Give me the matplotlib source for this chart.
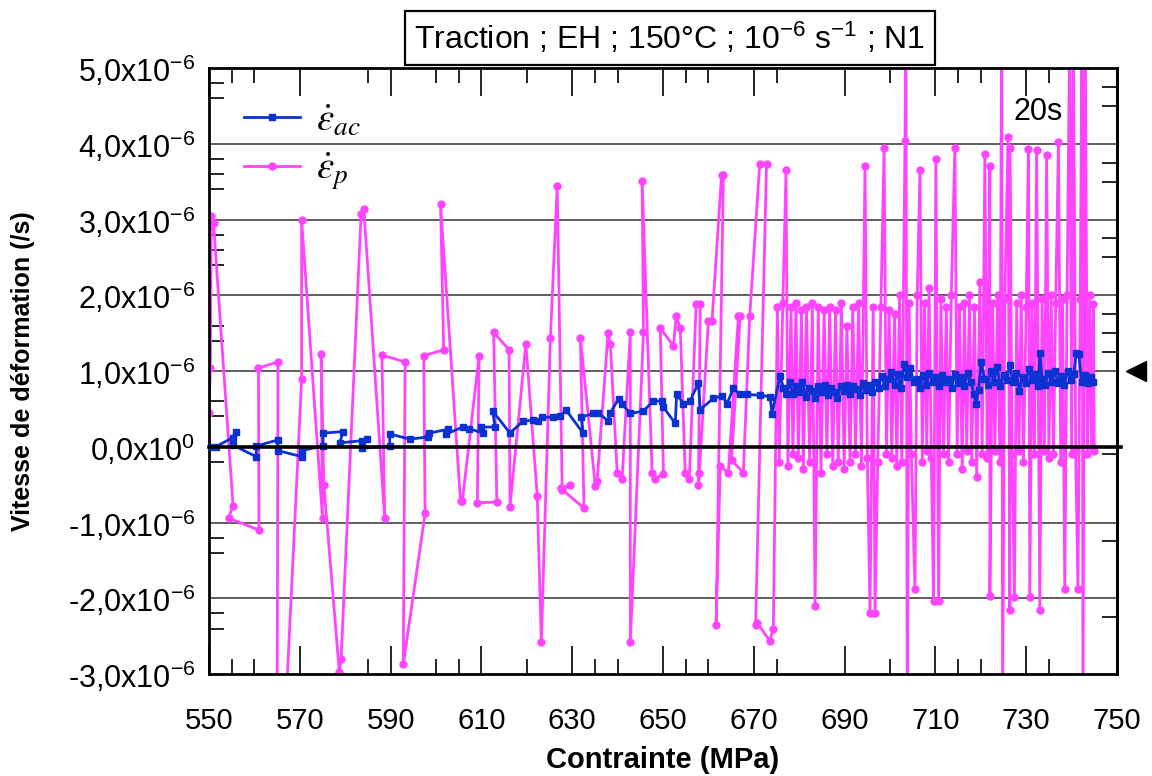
import numpy as np
import matplotlib
matplotlib.use("Agg")
import matplotlib.pyplot as plt
from matplotlib.ticker import FixedLocator
import matplotlib.transforms as mtransforms

plt.rcParams['font.family'] = ['Liberation Sans', 'DejaVu Sans']
plt.rcParams['mathtext.fontset'] = 'custom'
plt.rcParams['mathtext.rm'] = 'Liberation Sans'
plt.rcParams['mathtext.it'] = 'Liberation Sans:italic'

# --- donnees (contrainte en MPa, vitesse en 1e-6 /s) ---
x_p = [550.0, 550.3, 550.5, 551.0, 555.3, 554.3, 561.0, 560.9, 565.2, 565.0, 566.8,
       570.4, 570.4, 575.0, 574.7, 575.3, 578.7, 579.1, 583.5, 584.1, 588.7, 588.1,
       593.2, 592.8, 597.6, 597.3, 601.7, 601.0, 605.4, 605.8, 609.5, 609.1, 613.4,
       612.7, 616.1, 616.3, 619.8, 622.3, 623.2, 625.2, 626.7, 627.8, 629.6, 627.5,
       632.6, 631.8, 635.1, 635.5, 637.9, 638.4, 639.9, 641.0, 642.8, 642.8, 645.7,
       645.4, 647.6, 648.3, 650.1, 649.4, 652.3, 652.9, 653.8, 654.9, 655.8, 657.3,
       658.2, 657.8, 658.0, 660.0, 660.8, 662.9, 663.3, 661.7, 662.6, 664.4, 666.6,
       667.0, 665.1, 667.7, 669.1, 671.3, 672.8, 670.4, 670.8, 673.5, 674.3,
       675.2, 675.6, 676.4, 677.1, 677.5, 678.2, 678.6, 679.3, 679.8, 680.5, 680.9,
       681.6, 682.3, 682.9, 683.5, 684.2, 684.8, 685.5, 686.1, 686.7, 687.4, 688.0,
       688.6, 689.3, 689.9, 690.5, 691.2, 691.8, 692.4, 693.1, 693.7, 694.5, 695.0,
       695.6, 696.3, 696.7, 697.3, 698.0, 698.7, 699.2, 699.8, 700.4, 701.0, 701.5,
       702.1, 702.6, 703.3, 703.5, 703.8, 704.2, 704.7, 705.5, 706.0, 706.6, 707.1,
       707.6, 708.1, 708.6, 709.1, 709.6, 710.1, 710.7, 711.2, 711.8, 712.4, 712.9,
       713.5, 714.3, 714.8, 715.3, 715.9, 716.4, 716.9, 717.5, 718.0, 718.6, 719.1,
       719.8, 720.3, 720.9, 721.4, 722.0, 722.0, 722.6, 723.1, 723.7, 724.2, 724.6,
       724.8, 725.3, 726.0, 726.4, 726.4, 726.9, 727.4, 727.9, 728.4, 728.9, 729.4,
       730.0, 730.5, 730.8, 731.3, 731.8, 732.3, 733.0, 733.5, 734.0, 734.5, 735.0,
       735.5, 736.0, 736.5, 737.1, 737.6, 738.0, 738.5, 739.0, 739.6, 740.0, 740.4,
       740.9, 741.4, 741.9, 742.3, 742.5, 743.0, 743.5, 744.0, 744.4, 744.8, 745.0]
y_p = [0.45, 1.04, 3.05, 2.95, -0.78, -0.94, -1.10, 1.04, 1.12, -3.6, -3.6,
       0.89, 2.99, -0.94, 1.23, -0.5, -2.97, -2.80, 3.07, 3.14, -0.94, 1.21,
       1.12, -2.87, -0.88, 1.20, 1.28, 3.21, -0.72, -0.72, 1.20, -0.74, -0.73,
       1.51, 1.28, -0.79, 1.36, -0.65, -2.58, 1.44, 3.44, -0.57, -0.50, -0.55,
       -0.81, 1.44, -0.52, -0.45, 1.50, 1.36, -0.34, -0.42, 1.51, -2.58, 1.51,
       3.51, -0.34, -0.42, -0.36, 1.57, 1.33, 1.72, 1.57, -0.34, -0.42, 1.88,
       1.88, -0.50, -0.34, 1.66, 1.66, 3.59, 3.59, -2.35, -0.26, -0.34, 1.72,
       1.72, -0.18, -0.34, 1.72, 3.73, 3.73, -2.35, -2.33, -2.56, -2.40,
       1.85, -0.20, 1.90, 3.65, -0.25, 1.85, -0.10, 1.90, -0.15, 1.80, -0.30,
       1.85, -0.20, 1.90, -2.10, 1.85, -0.35, 1.80, -0.10, 1.85, -0.25, 1.80,
       -0.20, 1.90, -0.30, 1.60, -0.20, 1.85, -0.10, 1.90, -0.25, 3.71, -0.15,
       -2.19, 1.85, -2.19, -0.20, 1.85, 3.95, -0.10, 1.80, -0.15, 1.75, -0.25,
       2.00, -0.20, 4.04, 5.60, -3.40, 1.90, -0.10, -1.88, 2.00, 3.65, -0.20,
       1.90, -0.05, 2.10, -0.15, -2.03, 3.80, -2.03, 1.95, -0.10, 1.85, -0.20,
       2.00, 3.95, -0.10, 1.85, -0.30, 1.90, -0.05, 2.00, -0.20, 1.85, -0.40,
       2.18, -0.10, 3.86, -0.15, 3.70, -1.97, 1.90, -0.05, 2.00, -0.20, 5.60,
       -3.40, 1.95, 4.09, -2.16, 3.95, -0.10, -1.98, 1.90, -0.05, 2.00, -0.20,
       1.85, 3.93, -1.98, 1.90, -0.10, 3.92, -2.16, 1.95, -0.05, 3.85, -0.15,
       2.00, -0.10, 1.90, 4.02, -0.20, 1.95, -1.88, 2.00, 5.60, -0.10, 5.60,
       -0.05, -1.88, 1.95, 5.60, -3.40, 5.60, -0.10, 2.00, 0.00, 1.88, -0.05]

x_ac = [550.0, 551.5, 555.2, 555.9, 555.3, 560.4, 560.4, 565.2, 565.1, 570.4, 570.5,
        575.1, 575.1, 579.5, 578.8, 583.6, 584.7, 583.8, 589.8, 589.8, 594.2, 598.2,
        598.5, 602.6, 602.3, 605.9, 607.3, 610.3, 609.9, 613.0, 612.5, 616.3, 619.2,
        621.4, 622.5, 623.3, 625.8, 627.3, 628.7, 632.4, 632.0, 634.6, 635.7, 637.9,
        638.3, 640.2, 640.9, 642.8, 645.7, 647.9, 649.7, 650.1, 652.7, 653.0, 654.5,
        655.9, 657.8, 658.2, 661.1, 663.0, 664.1, 665.5, 667.0, 668.5, 671.4, 673.6,
        674.0, 675.8, 676.5, 677.2, 677.9, 678.6, 679.3, 680.0, 680.7, 681.4, 682.1,
        682.8, 683.5, 684.2, 684.9, 685.6, 686.3, 687.0, 687.7, 688.4, 689.1, 689.8,
        690.5, 691.2, 691.9, 692.6, 693.3, 694.0, 694.7, 695.4, 696.1, 696.8, 697.5,
        698.2, 698.9, 699.6, 700.3, 701.0, 701.7, 702.4, 703.1, 703.8, 704.5, 705.2,
        705.9, 706.6, 707.3, 708.0, 708.7, 709.4, 710.1, 710.8, 711.5, 712.2, 712.9,
        713.6, 714.3, 715.0, 715.7, 716.4, 717.1, 717.8, 718.5, 719.0, 719.5, 720.1,
        720.8, 721.5, 722.2, 722.9, 723.6, 724.3, 725.0, 725.7, 726.4, 727.1, 727.8,
        728.5, 729.2, 729.9, 730.6, 731.3, 732.0, 732.7, 733.0, 733.5, 734.2, 734.9,
        735.6, 736.3, 737.0, 737.7, 738.4, 739.1, 739.8, 740.5, 741.0, 741.6, 742.2,
        742.9, 743.6, 744.3, 744.8]
y_ac = [0.00, 0.00, 0.12, 0.20, 0.02, -0.13, 0.01, 0.09, -0.05, -0.13, -0.05,
        0.01, 0.18, 0.20, 0.05, 0.08, 0.10, -0.02, 0.01, 0.17, 0.10, 0.13,
        0.18, 0.23, 0.17, 0.26, 0.24, 0.18, 0.26, 0.26, 0.47, 0.18, 0.34,
        0.35, 0.34, 0.39, 0.39, 0.40, 0.48, 0.18, 0.39, 0.44, 0.45, 0.34,
        0.44, 0.63, 0.57, 0.44, 0.47, 0.61, 0.60, 0.52, 0.31, 0.69, 0.57,
        0.60, 0.84, 0.49, 0.64, 0.67, 0.57, 0.77, 0.69, 0.69, 0.68, 0.66,
        0.43, 0.94, 0.78, 0.69, 0.85, 0.70, 0.80, 0.72, 0.85, 0.66, 0.78,
        0.74, 0.65, 0.80, 0.72, 0.82, 0.68, 0.78, 0.72, 0.65, 0.80, 0.74,
        0.82, 0.70, 0.80, 0.76, 0.68, 0.84, 0.75, 0.82, 0.72, 0.86, 0.78,
        0.94, 0.80, 0.90, 0.99, 0.82, 0.96, 0.78, 1.09, 0.92, 1.04, 0.85,
        0.90, 0.78, 0.95, 0.82, 0.98, 0.86, 0.92, 0.80, 0.95, 0.85, 0.90,
        0.78, 0.96, 0.84, 0.92, 0.80, 0.98, 0.86, 0.70, 0.56, 0.75, 1.12,
        0.90, 0.82, 1.00, 0.86, 1.05, 0.80, 0.95, 0.88, 1.08, 0.85, 0.98,
        0.74, 0.92, 0.84, 1.02, 0.88, 0.96, 0.80, 1.24, 0.90, 0.82, 0.98,
        0.86, 1.00, 0.84, 0.94, 0.82, 1.00, 0.88, 0.96, 1.24, 1.22, 0.86,
        0.95, 0.84, 0.92, 0.86]

x_major = [550, 570, 590, 610, 630, 650, 670, 690, 710, 730, 750]
x_minor = [555, 560, 585, 600, 605, 620, 635, 640, 655, 660, 675, 700, 715, 720, 735]
y_major = [-3, -2, -1, 0, 1, 2, 3, 4, 5]
y_labels = ['-3,0x10$^{-6}$', '-2,0x10$^{-6}$', '-1,0x10$^{-6}$', '0,0x10$^{0}$',
            '1,0x10$^{-6}$', '2,0x10$^{-6}$', '3,0x10$^{-6}$', '4,0x10$^{-6}$',
            '5,0x10$^{-6}$']
y_minor_left = [4.8, 4.6, 3.8, 3.6, 3.4, 2.8, 2.6, 2.4, 1.6, 1.4, 0.6, 0.4,
                -0.2, -1.2, -1.4, -2.2, -2.4]
y_minor_right = [4.75, 4.5, 3.75, 3.5, 2.75, 2.5, 1.75, 1.5, 1.25, -0.1, -1.25, -2.25]
marker_y = 1.0

SC = 1e-6
x_p = np.array(x_p); y_p = np.array(y_p) * SC
x_ac = np.array(x_ac); y_ac = np.array(y_ac) * SC

fig = plt.figure(figsize=(11.52, 7.76), dpi=100)
ax = fig.add_axes([209/1152, 102/776, 908/1152, 606/776])

pink = '#ff44ff'
blue = '#0a32d2'

for v in y_major[1:-1]:
    if v != 0:
        ax.axhline(v * SC, color='#333333', lw=1.1, zorder=1)

ax.plot(x_p, y_p, color=pink, lw=2.0, marker='o', ms=5, zorder=2,
        label=r'$\dot{\varepsilon}_{p}$')
ax.plot(x_ac, y_ac, color=blue, lw=2.0, marker='s', ms=4.2, zorder=3,
        label=r'$\dot{\varepsilon}_{ac}$')
ax.axhline(0, color='black', lw=2.6, zorder=4, xmin=0, xmax=1.004, clip_on=False)

ax.set_xlim(550, 750)
ax.set_ylim(-3 * SC, 5 * SC)

ax.xaxis.set_major_locator(FixedLocator(x_major))
ax.xaxis.set_minor_locator(FixedLocator(x_minor))
ax.yaxis.set_major_locator(FixedLocator([v * SC for v in y_major]))
ax.set_yticklabels(y_labels)
ax.yaxis.set_minor_locator(FixedLocator([v * SC for v in y_minor_left]))

ax.tick_params(axis='x', which='both', direction='in', top=True, labelsize=21, pad=24,
               width=1.2)
ax.tick_params(axis='x', which='major', length=20)
ax.tick_params(axis='x', which='minor', length=11)
ax.tick_params(axis='y', which='both', direction='in', right=False, labelsize=22,
               pad=10, width=1.2)
ax.tick_params(axis='y', which='major', length=0)
ax.tick_params(axis='y', which='minor', length=11)

sec = ax.secondary_yaxis('right')
sec.yaxis.set_major_locator(FixedLocator([]))
sec.yaxis.set_minor_locator(FixedLocator([v * SC for v in y_minor_right]))
sec.tick_params(which='minor', direction='in', length=11, width=1.2, labelright=False)
sec.spines['right'].set_linewidth(2)

for s in ax.spines.values():
    s.set_linewidth(2)

ax.set_xlabel('Contrainte (MPa)', fontsize=21, fontweight='bold', labelpad=8)
ax.set_ylabel('Vitesse de déformation (/s)', fontsize=18, fontweight='bold')
ax.yaxis.set_label_coords(-0.192, 0.5)

h, l = ax.get_legend_handles_labels()
leg = ax.legend(h[::-1], l[::-1], loc='upper left', bbox_to_anchor=(0.0, 1.0),
                frameon=False, fontsize=28, handlelength=1.45, handletextpad=0.4,
                labelspacing=0.3, borderaxespad=0.5)
for t in leg.get_texts():
    t.set_math_fontfamily('stix')

ax.text(732.6, 4.42 * SC, '20s', ha='center', va='center', fontsize=22)

trans = mtransforms.blended_transform_factory(ax.transAxes, ax.transData)
ax.plot([1.021], [marker_y * SC], marker='<', ms=15, color='black',
        transform=trans, clip_on=False)

fig.text(670/1152, 1 - 38/776, 'Traction ; EH ; 150°C ; 10$^{-6}$ s$^{-1}$ ; N1',
         ha='center', va='center', fontsize=23,
         bbox=dict(boxstyle='square,pad=0.3', fc='white', ec='black', lw=1.6))

fig.savefig('out.png', dpi=100)
